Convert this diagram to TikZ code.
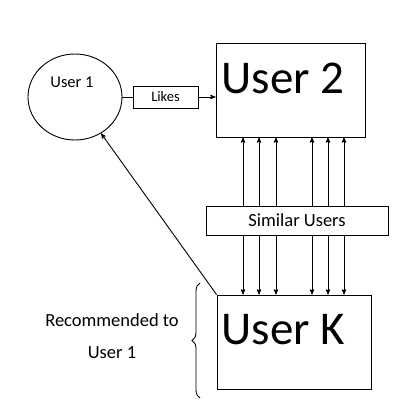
\documentclass[tikz,border=0pt]{standalone}
\usepackage{fontspec}
\setmainfont{Carlito}
\usetikzlibrary{arrows, positioning, shapes.geometric, decorations.pathreplacing}
\tikzset{
	>=stealth', % small filled heads
	every path/.style={line width=0.9pt},
	box/.style={draw, rectangle, inner sep=0pt}, % plain rectangles
	small/.style={font=\fontsize{14.5}{16}\selectfont},
	mid/.style={font=\fontsize{18.5}{32}\selectfont},
	big/.style={font=\fontsize{47}{50}\selectfont},
}
\begin{document}
\begin{tikzpicture}[x=1pt, y=-1pt]
	\useasboundingbox (0,0) rectangle (402,420);

	\node[draw, ellipse, minimum width=94pt, minimum height=86pt] (u1) at (75,97) {};
	\node[font=\fontsize{16.5}{18}\selectfont] (u1text) at (72,82) {User 1};
	\node[box, small, minimum width=65pt, minimum height=22pt] (likes) at (165.5,97) {Likes};
	\node[box, minimum width=149pt, minimum height=94pt] (u2) at (290.5,90) {};
	\node[big, anchor=base west, inner sep=0pt] (u2text) at (221,93) {User 2};
	\node[box, mid, minimum width=182pt, minimum height=29pt] (sim) at (297,220.5) {Similar Users};
	\node[box, minimum width=154pt, minimum height=94pt] (uk) at (294,342) {};
	\node[big, anchor=base west, inner sep=0pt] (uktext) at (221,344) {User K};
	\node[mid, align=center] (rec) at (112,336) {Recommended to\\User 1};

	\draw (u1.east) -- (likes.west);
	\draw[->] (likes.east) -- (likes.east -| u2.west);
	\foreach \x in {243,259,276,312,328,344} {
		\draw[->] (sim.north -| \x,0) -- (u2.south -| \x,0);
		\draw[->] (sim.south -| \x,0) -- (uk.north -| \x,0);
	}
	\draw[->] (uk.north west) -- (u1);

	\coordinate (bracelow) at (200,398);
	\coordinate (bracehigh) at (200,283);
	\draw[decorate, decoration={brace, amplitude=8pt}] (bracelow) -- (bracehigh);
\end{tikzpicture}
\end{document}
